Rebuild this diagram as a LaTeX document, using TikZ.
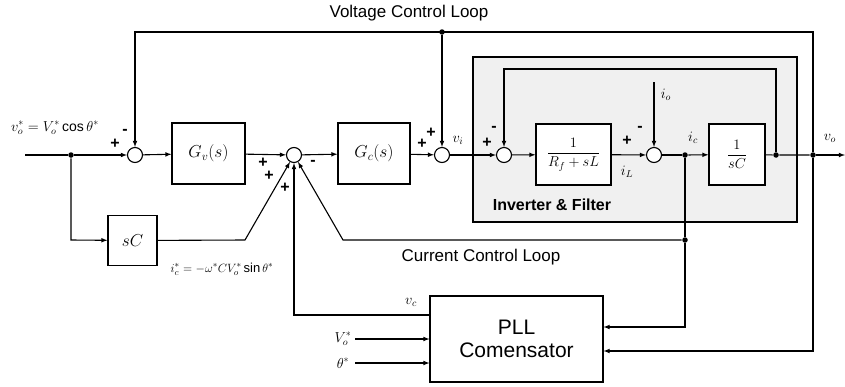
\documentclass[tikz,border=0pt]{standalone}
\usepackage{fontspec}
\setmainfont{Liberation Sans}
\usepackage{amsmath}
\usetikzlibrary{arrows, calc, positioning}
\tikzstyle{stdText} = [align=center, inner sep=1pt, font=\fontsize{17}{19}\selectfont]
\tikzstyle{mathText} = [inner sep=1pt, font=\fontsize{14}{16}\selectfont]
\tikzstyle{block} = [draw, rectangle, fill=white, minimum height=61pt, inner sep=2pt, font=\fontsize{17}{19}\selectfont]
\tikzstyle{sum} = [draw, circle, fill=white, minimum size=15pt, inner sep=0pt]
\tikzstyle{dot} = [circle, fill, minimum size=5.5pt, inner sep=0pt]
\tikzstyle{sgn} = [inner sep=0pt, font=\bfseries\fontsize{16}{16}\selectfont]
\tikzstyle{ar} = [-latex, line width=1.1pt]
\tikzstyle{ln} = [line width=1.1pt]

\begin{document}
\begin{tikzpicture}[x=1pt, y=-1pt, line width=1.1pt]
    \useasboundingbox (0,0) rectangle (845,386);

    % inverter and filter area
    \draw [line width=1.8pt, fill=gray!12] (473,57) rectangle (797,222);
    \node (invText) [stdText, font=\bfseries\fontsize{16}{18}\selectfont] at (552,205) {Inverter \& Filter};

    % the blocks
    \node (s1) [sum] at (135,155) {};
    \node (gv) [block, minimum width=73pt] at (208.5,153.5) {$G_v(s)$};
    \node (s2) [sum] at (294,155) {};
    \node (gc) [block, minimum width=72pt] at (374,153.5) {$G_c(s)$};
    \node (s3) [sum] at (442,155) {};
    \node (s4) [sum] at (504,155) {};
    \node (rl) [block, minimum width=75pt, font=\fontsize{14}{16}\selectfont] at (573.5,154.5) {$\dfrac{1}{R_f+sL}$};
    \node (s5) [sum] at (654,155) {};
    \node (scInv) [block, minimum width=56pt, font=\fontsize{14}{16}\selectfont] at (737,154.5) {$\dfrac{1}{sC}$};
    \node (sCb) [block, minimum width=49pt, minimum height=50pt] at (132.5,240.5) {$sC$};
    \node (pll) [draw, rectangle, minimum width=173pt, minimum height=86pt, align=center,
                 font=\fontsize{21}{23}\selectfont] at (516.5,339) {PLL\\Comensator};

    % branch points
    \node (dIn) [dot] at (71,155) {};
    \node (dTop) [dot] at (442,32) {};
    \node (dIc) [dot] at (685,155) {};
    \node (dVo1) [dot] at (776,155) {};
    \node (dVo) [dot] at (813,155) {};
    \node (dCur) [dot] at (685,240) {};

    \coordinate (in) at (25,155);
    \coordinate (out) at (845,155);
    \coordinate (topR) at (813,32);
    \coordinate (topL) at (135,32);
    \coordinate (inTopR) at (776,69);
    \coordinate (inTopL) at (504,69);
    \coordinate (ioTop) at (654,82);
    \coordinate (curL) at (343,240);
    \coordinate (scR) at (245,240);
    \coordinate (scL) at (71,240);
    \coordinate (vcL) at (294,315);
    \coordinate (vcR) at (430,315);
    \coordinate (voIn) at (355,339);
    \coordinate (thIn) at (355,363);

    % forward path
    \draw [ln] (in) -- (dIn);
    \draw [ar] (dIn) -- (s1);
    \draw [ar] (s1) -- (gv);
    \draw [ar] (gv) -- (s2);
    \draw [ar] (s2) -- (gc);
    \draw [ar] (gc) -- (s3);
    \draw [ar] (s3) -- (s4);
    \draw [ar] (s4) -- (rl);
    \draw [ar] (rl) -- (s5);
    \draw [ln] (s5) -- (dIc);
    \draw [ar] (dIc) -- (scInv);
    \draw [ln] (scInv) -- (dVo1) -- (dVo);
    \draw [ar] (dVo) -- (out);

    % voltage loop
    \draw [ar] (dVo) -- (topR) -- (topL) -- (s1);
    \draw [ar] (dTop) -- (s3);
    \draw [ar] (dVo1) -- (inTopR) -- (inTopL) -- (s4);
    \draw [ar] (ioTop) -- (s5);

    % current loop and feed-forward
    \draw [ln] (dIc) -- (dCur);
    \draw [ar] (dCur) -- (curL) -- (s2);
    \draw [ar] (dIn) -- (scL) -- (sCb);
    \draw [ar] (sCb) -- (scR) -- (s2);
    \draw [ar] (vcR) -- (vcL) -- (s2);

    % into the PLL
    \draw [ar] (dCur) -- (685,327) -- (pll.east |- 0,327);
    \draw [ar] (dVo) -- (813,351) -- (pll.east |- 0,351);
    \draw [ar] (voIn) -- (pll.west |- voIn);
    \draw [ar] (thIn) -- (pll.west |- thIn);

    % signs
    \node [sgn] at (115,144) {+};
    \node [sgn] at (125,132) {-};
    \node [sgn] at (263,163) {+};
    \node [sgn] at (269,176) {+};
    \node [sgn] at (285,188) {+};
    \node [sgn] at (313,163) {-};
    \node [sgn] at (422,144) {+};
    \node [sgn] at (431,133) {+};
    \node [sgn] at (487,143) {+};
    \node [sgn] at (494,129) {-};
    \node [sgn] at (627,141) {+};
    \node [sgn] at (640,129) {-};

    % labels
    \node (vlText) [stdText] at (409,13) {Voltage Control Loop};
    \node (clText) [stdText] at (481,257) {Current Control Loop};
    \node (vRef) [mathText] at (55,128) {$v_o^*=V_o^*\cos\theta^*$};
    \node (icRef) [mathText, font=\fontsize{13}{15}\selectfont] at (222,269) {$i_c^*=-\omega^* C V_o^*\sin\theta^*$};
    \node (viText) [mathText] at (458,140) {$v_i$};
    \node (iLText) [mathText] at (627,172) {$i_L$};
    \node (icText) [mathText] at (693,138) {$i_c$};
    \node (ioText) [mathText] at (666,95) {$i_o$};
    \node (voText) [mathText] at (830,138) {$v_o$};
    \node (vcText) [mathText] at (411,302) {$v_c$};
    \node (VoText) [mathText] at (343,339) {$V_o^*$};
    \node (thText) [mathText] at (343,363) {$\theta^*$};
\end{tikzpicture}
\end{document}
